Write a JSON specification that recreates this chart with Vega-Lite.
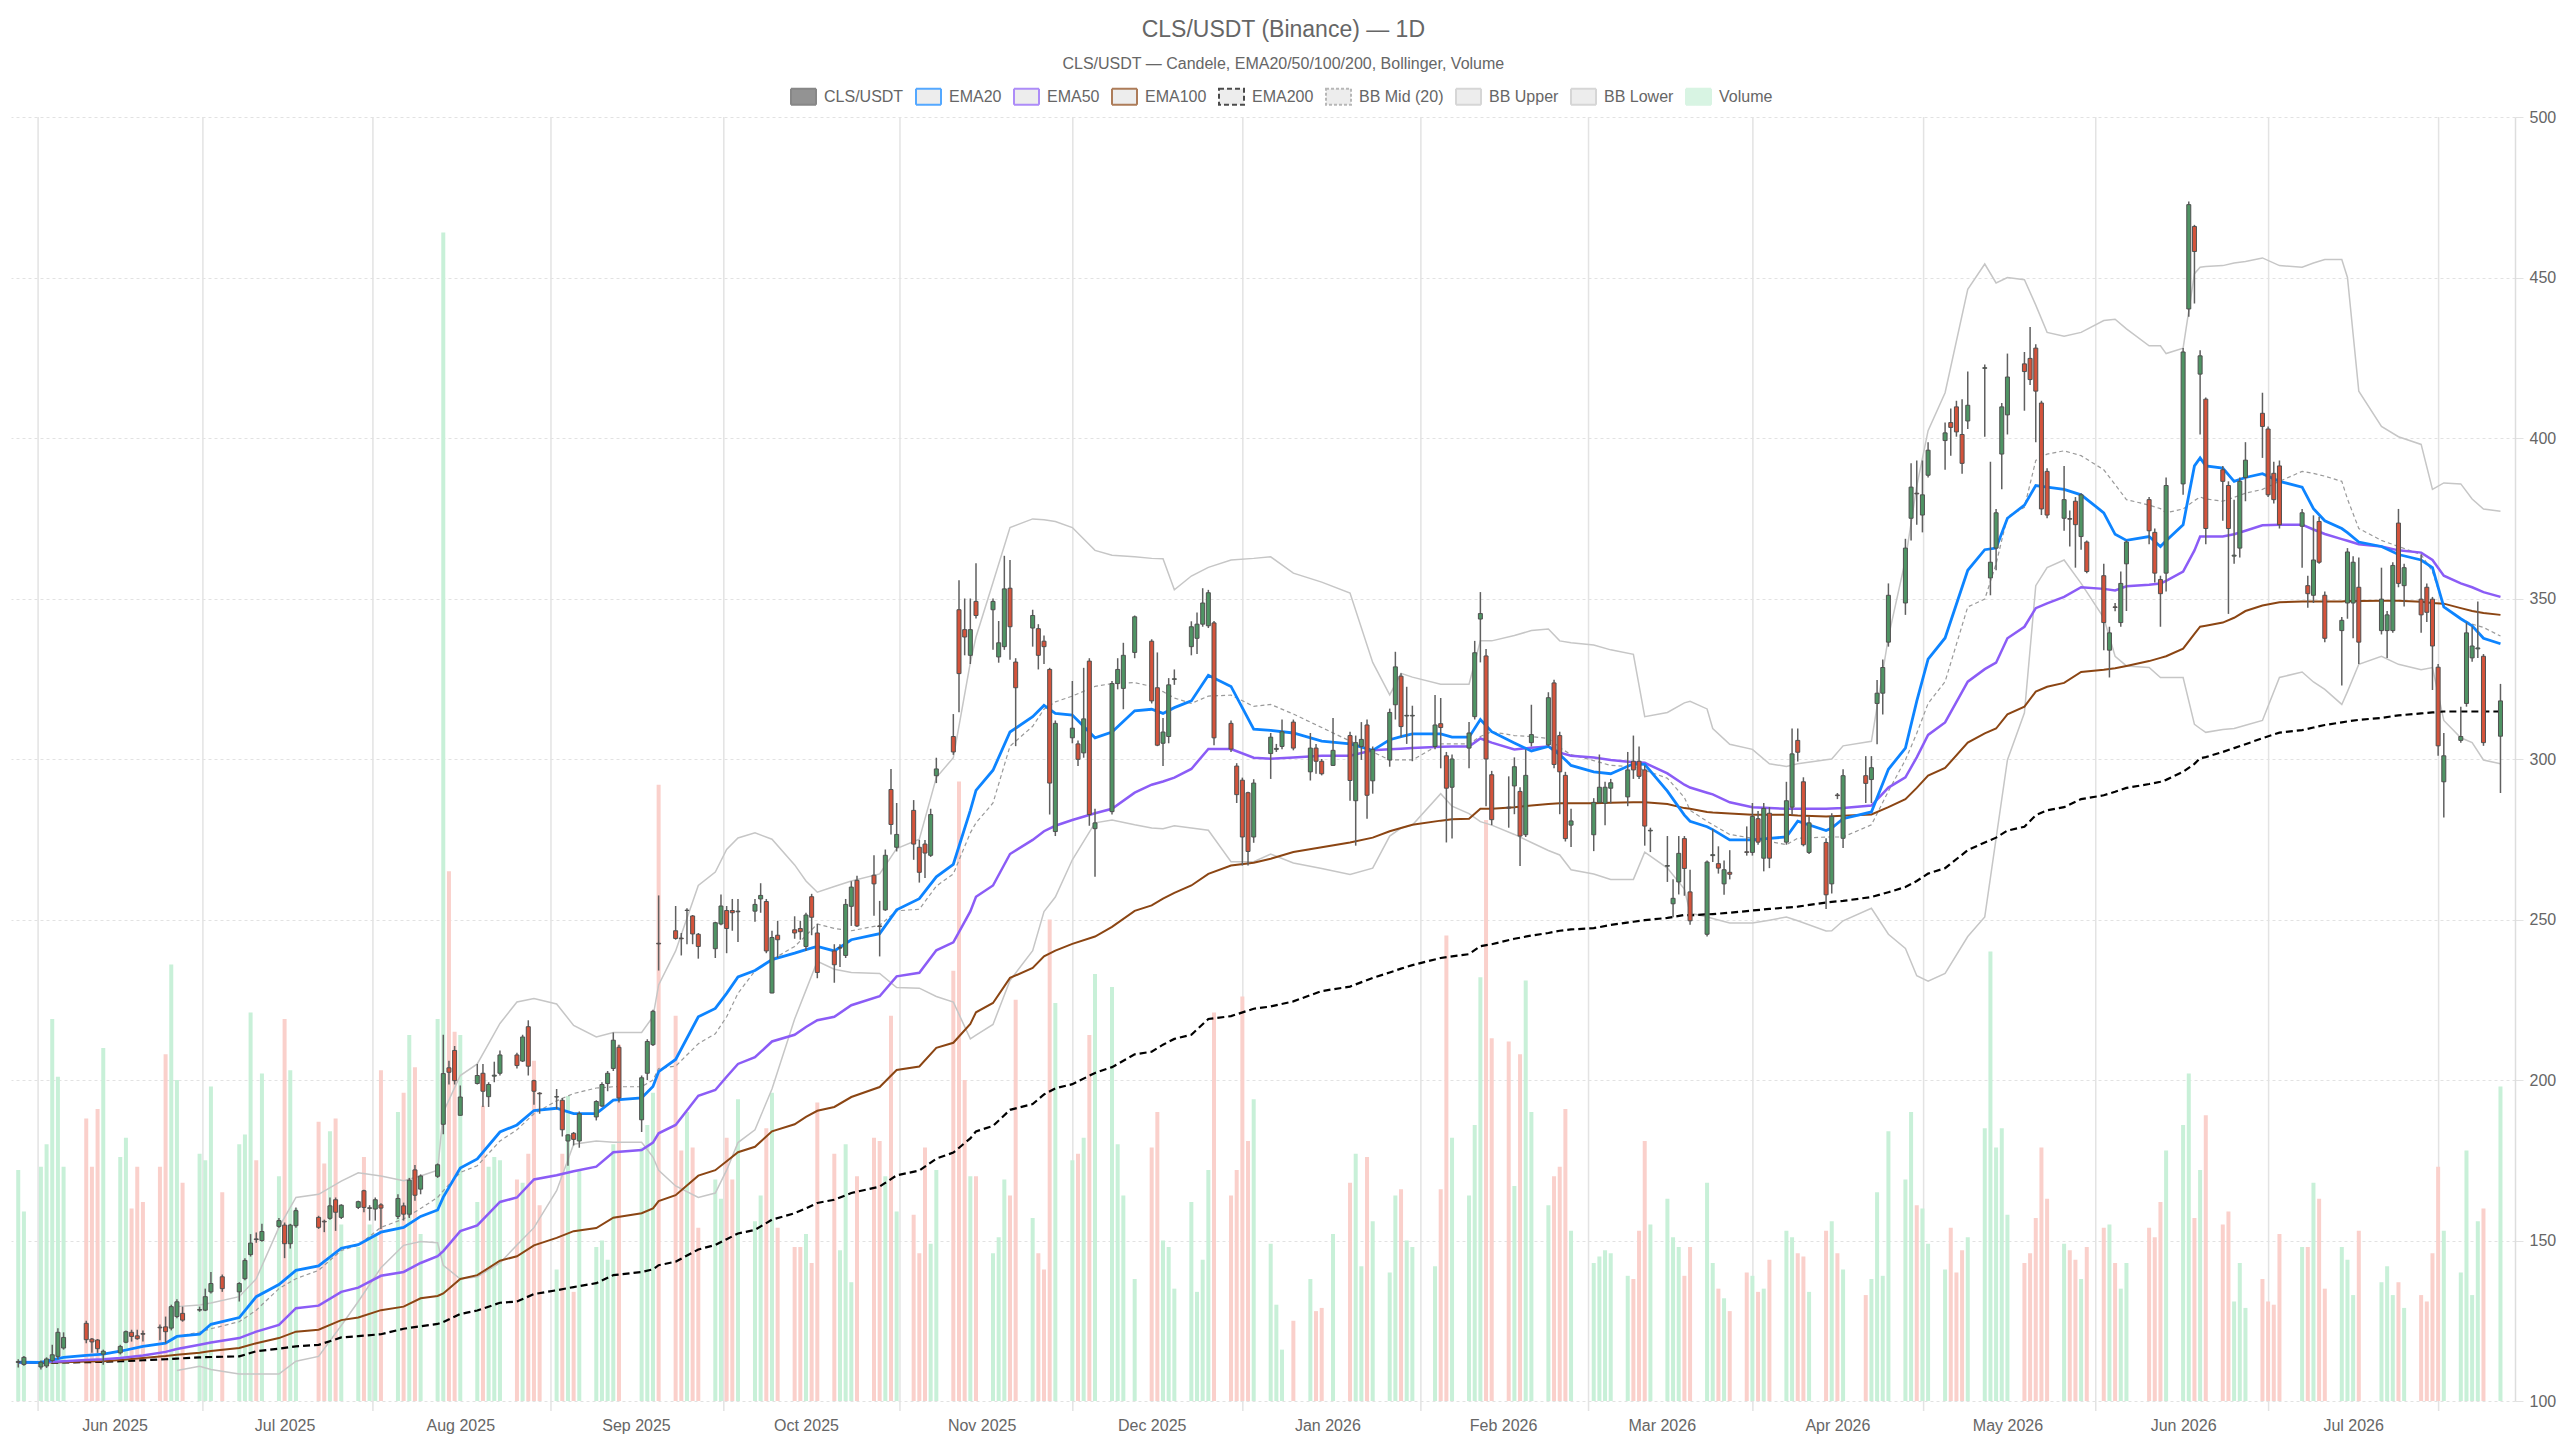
{
  "$schema": "https://vega.github.io/schema/vega-lite/v6.json",
  "width": 2504,
  "height": 1284,
  "autosize": {"type": "none"},
  "padding": {"left": 11, "top": 117, "right": 45, "bottom": 39},
  "background": "white",
  "title": {
    "text": "CLS/USDT (Binance) — 1D",
    "subtitle": "CLS/USDT — Candele, EMA20/50/100/200, Bollinger, Volume",
    "anchor": "middle",
    "frame": "bounds",
    "font": "Liberation Sans",
    "fontSize": 23,
    "fontWeight": "normal",
    "color": "#666666",
    "subtitleFont": "Liberation Sans",
    "subtitleFontSize": 16,
    "subtitleColor": "#666666",
    "subtitlePadding": 14,
    "offset": 11
  },
  "config": {
    "view": {"stroke": null},
    "font": "Liberation Sans"
  },
  "datasets": {
    "monthGrid": [
      {"t": "2025-05-18T12:00:00Z"}, {"t": "2025-06-16T14:00:00Z"}, {"t": "2025-07-16T14:00:00Z"},
      {"t": "2025-08-17T00:00:00Z"}, {"t": "2025-09-16T12:00:00Z"}, {"t": "2025-10-17T14:00:00Z"},
      {"t": "2025-11-17T02:00:00Z"}, {"t": "2025-12-17T02:00:00Z"}, {"t": "2026-01-17T12:00:00Z"},
      {"t": "2026-02-16T02:00:00Z"}, {"t": "2026-03-17T02:00:00Z"}, {"t": "2026-04-16T05:00:00Z"},
      {"t": "2026-05-16T14:00:00Z"}, {"t": "2026-06-16T02:00:00Z"}, {"t": "2026-07-16T02:00:00Z"}
    ],
    "legendItems": [
      {"s": "CLS/USDT"}, {"s": "EMA20"}, {"s": "EMA50"}, {"s": "EMA100"}, {"s": "EMA200"},
      {"s": "BB Mid (20)"}, {"s": "BB Upper"}, {"s": "BB Lower"}, {"s": "Volume"}
    ],
    "candles": [
      {"t":"2025-05-15","o":112.0,"h":113.0,"l":110.4,"c":112.3,"v":72},
      {"t":"2025-05-16","o":111.4,"h":114.0,"l":111.0,"c":113.6,"v":59},
      {"t":"2025-05-19","o":110.6,"h":112.6,"l":109.8,"c":112.1,"v":73},
      {"t":"2025-05-20","o":110.9,"h":113.6,"l":110.3,"c":113.1,"v":80},
      {"t":"2025-05-21","o":112.6,"h":117.5,"l":112.0,"c":114.4,"v":119},
      {"t":"2025-05-22","o":113.9,"h":122.7,"l":113.0,"c":121.4,"v":101},
      {"t":"2025-05-23","o":116.5,"h":121.4,"l":116.0,"c":119.8,"v":73},
      {"t":"2025-05-27","o":124.2,"h":125.0,"l":118.0,"c":119.1,"v":88},
      {"t":"2025-05-28","o":119.3,"h":119.6,"l":115.0,"c":118.4,"v":73},
      {"t":"2025-05-29","o":119.0,"h":119.3,"l":115.0,"c":116.3,"v":91},
      {"t":"2025-05-30","o":114.6,"h":116.0,"l":111.3,"c":115.5,"v":110},
      {"t":"2025-06-02","o":115.0,"h":117.5,"l":114.5,"c":117.0,"v":76},
      {"t":"2025-06-03","o":118.3,"h":122.0,"l":118.0,"c":121.6,"v":82},
      {"t":"2025-06-04","o":121.4,"h":122.2,"l":118.5,"c":120.1,"v":60},
      {"t":"2025-06-05","o":120.3,"h":122.2,"l":119.1,"c":119.4,"v":73},
      {"t":"2025-06-06","o":121.0,"h":122.0,"l":118.5,"c":120.8,"v":62},
      {"t":"2025-06-09","o":123.0,"h":123.8,"l":118.9,"c":122.8,"v":73},
      {"t":"2025-06-10","o":123.1,"h":126.3,"l":118.0,"c":121.6,"v":108},
      {"t":"2025-06-11","o":122.7,"h":130.0,"l":122.0,"c":129.4,"v":136},
      {"t":"2025-06-12","o":126.3,"h":131.7,"l":125.8,"c":130.9,"v":100},
      {"t":"2025-06-13","o":127.3,"h":129.4,"l":124.7,"c":125.2,"v":68},
      {"t":"2025-06-16","o":128.3,"h":129.4,"l":127.8,"c":128.5,"v":77},
      {"t":"2025-06-17","o":128.3,"h":135.0,"l":128.0,"c":132.5,"v":75},
      {"t":"2025-06-18","o":134.0,"h":140.2,"l":133.5,"c":136.6,"v":98},
      {"t":"2025-06-20","o":138.7,"h":139.4,"l":134.0,"c":135.0,"v":65},
      {"t":"2025-06-23","o":134.0,"h":137.0,"l":131.0,"c":136.6,"v":80},
      {"t":"2025-06-24","o":138.1,"h":144.5,"l":137.6,"c":143.8,"v":83},
      {"t":"2025-06-25","o":145.6,"h":152.0,"l":145.0,"c":149.2,"v":121},
      {"t":"2025-06-26","o":150.5,"h":152.5,"l":149.3,"c":150.3,"v":75},
      {"t":"2025-06-27","o":150.0,"h":155.2,"l":149.6,"c":152.8,"v":102},
      {"t":"2025-06-30","o":154.4,"h":157.0,"l":154.0,"c":156.2,"v":70},
      {"t":"2025-07-01","o":154.8,"h":155.6,"l":144.5,"c":149.0,"v":119},
      {"t":"2025-07-02","o":149.0,"h":155.2,"l":147.5,"c":154.8,"v":103},
      {"t":"2025-07-03","o":154.6,"h":160.3,"l":154.0,"c":159.3,"v":60},
      {"t":"2025-07-07","o":157.2,"h":157.7,"l":153.6,"c":154.1,"v":87},
      {"t":"2025-07-08","o":156.0,"h":156.5,"l":152.6,"c":155.8,"v":74},
      {"t":"2025-07-09","o":156.9,"h":163.4,"l":156.5,"c":160.8,"v":84},
      {"t":"2025-07-10","o":162.7,"h":163.4,"l":153.0,"c":158.8,"v":88},
      {"t":"2025-07-11","o":157.2,"h":161.3,"l":156.7,"c":161.0,"v":55},
      {"t":"2025-07-14","o":160.3,"h":162.4,"l":159.8,"c":162.1,"v":48},
      {"t":"2025-07-15","o":165.5,"h":165.8,"l":158.8,"c":160.3,"v":76},
      {"t":"2025-07-16","o":160.0,"h":161.0,"l":156.2,"c":160.2,"v":55},
      {"t":"2025-07-17","o":159.8,"h":163.4,"l":156.2,"c":162.7,"v":52},
      {"t":"2025-07-18","o":161.1,"h":161.6,"l":153.6,"c":160.1,"v":103},
      {"t":"2025-07-21","o":157.5,"h":164.4,"l":156.7,"c":163.1,"v":90},
      {"t":"2025-07-22","o":160.8,"h":161.8,"l":156.2,"c":158.2,"v":96},
      {"t":"2025-07-23","o":158.2,"h":169.5,"l":157.0,"c":168.8,"v":114},
      {"t":"2025-07-24","o":172.0,"h":173.5,"l":162.4,"c":164.1,"v":104},
      {"t":"2025-07-25","o":166.0,"h":170.6,"l":164.4,"c":170.1,"v":52},
      {"t":"2025-07-28","o":170.0,"h":174.0,"l":169.5,"c":173.6,"v":119},
      {"t":"2025-07-29","o":186.2,"h":214.1,"l":183.1,"c":202.0,"v":364},
      {"t":"2025-07-30","o":203.8,"h":206.0,"l":198.6,"c":202.4,"v":165},
      {"t":"2025-07-31","o":209.2,"h":210.6,"l":198.6,"c":199.8,"v":115},
      {"t":"2025-08-01","o":189.0,"h":198.3,"l":188.9,"c":194.7,"v":114},
      {"t":"2025-08-04","o":198.9,"h":205.0,"l":198.6,"c":201.4,"v":62},
      {"t":"2025-08-05","o":202.1,"h":205.0,"l":191.6,"c":196.5,"v":92},
      {"t":"2025-08-06","o":194.8,"h":199.3,"l":191.6,"c":198.6,"v":73},
      {"t":"2025-08-07","o":201.2,"h":205.7,"l":199.3,"c":201.5,"v":76},
      {"t":"2025-08-08","o":202.1,"h":209.2,"l":201.4,"c":207.8,"v":75},
      {"t":"2025-08-11","o":207.8,"h":208.5,"l":203.6,"c":204.5,"v":69},
      {"t":"2025-08-12","o":205.9,"h":214.1,"l":205.6,"c":213.4,"v":68},
      {"t":"2025-08-13","o":216.6,"h":218.6,"l":201.4,"c":204.3,"v":77},
      {"t":"2025-08-14","o":199.8,"h":200.1,"l":192.3,"c":196.5,"v":106},
      {"t":"2025-08-15","o":195.9,"h":196.2,"l":189.5,"c":195.7,"v":61},
      {"t":"2025-08-18","o":194.7,"h":197.2,"l":190.9,"c":194.8,"v":41},
      {"t":"2025-08-19","o":193.7,"h":194.4,"l":182.4,"c":184.5,"v":77},
      {"t":"2025-08-20","o":181.0,"h":183.1,"l":173.3,"c":182.9,"v":95},
      {"t":"2025-08-21","o":183.4,"h":183.8,"l":179.6,"c":181.5,"v":34},
      {"t":"2025-08-22","o":181.0,"h":190.2,"l":178.9,"c":189.5,"v":72},
      {"t":"2025-08-25","o":188.5,"h":193.7,"l":187.4,"c":193.3,"v":48},
      {"t":"2025-08-26","o":191.9,"h":199.3,"l":191.6,"c":198.6,"v":50},
      {"t":"2025-08-27","o":198.9,"h":202.8,"l":196.5,"c":202.1,"v":44},
      {"t":"2025-08-28","o":203.6,"h":214.8,"l":202.8,"c":212.4,"v":80},
      {"t":"2025-08-29","o":210.2,"h":211.0,"l":193.0,"c":194.4,"v":111},
      {"t":"2025-09-02","o":187.6,"h":201.4,"l":183.8,"c":200.7,"v":79},
      {"t":"2025-09-03","o":202.1,"h":212.7,"l":200.0,"c":212.0,"v":86},
      {"t":"2025-09-04","o":211.0,"h":221.9,"l":210.6,"c":221.4,"v":96},
      {"t":"2025-09-05","o":242.6,"h":257.5,"l":234.1,"c":242.4,"v":192},
      {"t":"2025-09-08","o":246.5,"h":254.2,"l":243.7,"c":244.1,"v":120},
      {"t":"2025-09-09","o":244.2,"h":245.8,"l":238.8,"c":244.0,"v":78},
      {"t":"2025-09-10","o":252.8,"h":253.5,"l":242.3,"c":252.9,"v":90},
      {"t":"2025-09-11","o":251.1,"h":251.4,"l":242.3,"c":245.5,"v":79},
      {"t":"2025-09-12","o":245.4,"h":245.8,"l":237.8,"c":241.6,"v":54},
      {"t":"2025-09-15","o":240.9,"h":249.3,"l":238.0,"c":249.0,"v":69},
      {"t":"2025-09-16","o":248.6,"h":257.8,"l":248.2,"c":254.2,"v":63},
      {"t":"2025-09-17","o":252.8,"h":254.2,"l":239.5,"c":247.2,"v":82},
      {"t":"2025-09-18","o":252.8,"h":256.4,"l":246.5,"c":252.1,"v":69},
      {"t":"2025-09-19","o":252.4,"h":256.4,"l":243.0,"c":252.6,"v":94},
      {"t":"2025-09-22","o":252.6,"h":256.4,"l":249.3,"c":254.7,"v":56},
      {"t":"2025-09-23","o":256.4,"h":261.3,"l":252.1,"c":257.5,"v":64},
      {"t":"2025-09-24","o":255.6,"h":256.4,"l":239.5,"c":240.2,"v":85},
      {"t":"2025-09-25","o":227.1,"h":246.5,"l":227.0,"c":244.4,"v":96},
      {"t":"2025-09-26","o":245.1,"h":249.6,"l":238.0,"c":243.7,"v":54},
      {"t":"2025-09-29","o":246.8,"h":251.0,"l":244.0,"c":245.8,"v":48},
      {"t":"2025-09-30","o":247.2,"h":249.6,"l":243.7,"c":246.2,"v":48},
      {"t":"2025-10-01","o":241.6,"h":252.1,"l":240.2,"c":251.4,"v":52},
      {"t":"2025-10-02","o":257.1,"h":258.0,"l":245.1,"c":250.7,"v":43},
      {"t":"2025-10-03","o":245.8,"h":248.6,"l":231.7,"c":233.5,"v":93},
      {"t":"2025-10-06","o":240.2,"h":242.3,"l":230.3,"c":235.9,"v":77},
      {"t":"2025-10-07","o":241.1,"h":242.3,"l":235.2,"c":241.3,"v":47},
      {"t":"2025-10-08","o":238.8,"h":256.4,"l":238.0,"c":254.7,"v":80},
      {"t":"2025-10-09","o":254.1,"h":261.9,"l":248.0,"c":260.1,"v":37},
      {"t":"2025-10-10","o":262.2,"h":263.6,"l":247.7,"c":248.0,"v":70},
      {"t":"2025-10-13","o":263.8,"h":270.0,"l":251.2,"c":261.1,"v":82},
      {"t":"2025-10-14","o":248.0,"h":255.8,"l":238.5,"c":247.8,"v":81},
      {"t":"2025-10-15","o":253.0,"h":271.8,"l":252.7,"c":270.0,"v":70},
      {"t":"2025-10-16","o":290.5,"h":296.9,"l":276.5,"c":279.6,"v":120},
      {"t":"2025-10-17","o":272.5,"h":286.3,"l":271.2,"c":276.5,"v":59},
      {"t":"2025-10-20","o":284.0,"h":287.2,"l":268.6,"c":273.5,"v":58},
      {"t":"2025-10-21","o":272.5,"h":274.8,"l":261.5,"c":264.7,"v":46},
      {"t":"2025-10-22","o":273.5,"h":274.8,"l":262.9,"c":270.7,"v":79},
      {"t":"2025-10-23","o":270.0,"h":284.5,"l":269.5,"c":282.7,"v":49},
      {"t":"2025-10-24","o":294.8,"h":300.4,"l":292.5,"c":296.9,"v":72},
      {"t":"2025-10-27","o":307.0,"h":314.0,"l":301.3,"c":302.2,"v":134},
      {"t":"2025-10-28","o":346.5,"h":355.7,"l":314.6,"c":326.6,"v":193},
      {"t":"2025-10-29","o":340.3,"h":350.0,"l":332.3,"c":338.0,"v":100},
      {"t":"2025-10-30","o":332.3,"h":350.0,"l":329.6,"c":340.3,"v":70},
      {"t":"2025-10-31","o":349.1,"h":361.0,"l":343.8,"c":344.7,"v":70},
      {"t":"2025-11-03","o":346.5,"h":350.0,"l":334.0,"c":349.1,"v":46},
      {"t":"2025-11-04","o":331.8,"h":343.0,"l":330.0,"c":336.2,"v":51},
      {"t":"2025-11-05","o":335.0,"h":363.3,"l":334.0,"c":353.0,"v":69},
      {"t":"2025-11-06","o":353.2,"h":362.0,"l":330.9,"c":341.2,"v":64},
      {"t":"2025-11-07","o":330.2,"h":331.4,"l":304.0,"c":322.2,"v":125},
      {"t":"2025-11-10","o":340.8,"h":346.5,"l":335.0,"c":344.7,"v":57},
      {"t":"2025-11-11","o":340.6,"h":342.0,"l":327.9,"c":332.3,"v":46},
      {"t":"2025-11-12","o":336.7,"h":338.5,"l":329.6,"c":335.0,"v":41},
      {"t":"2025-11-13","o":327.9,"h":328.4,"l":282.7,"c":292.5,"v":150},
      {"t":"2025-11-14","o":277.4,"h":312.0,"l":276.0,"c":311.1,"v":124},
      {"t":"2025-11-17","o":306.6,"h":324.3,"l":304.9,"c":309.6,"v":75},
      {"t":"2025-11-18","o":304.7,"h":305.8,"l":297.8,"c":299.9,"v":77},
      {"t":"2025-11-19","o":301.9,"h":328.4,"l":300.4,"c":312.5,"v":82},
      {"t":"2025-11-20","o":330.5,"h":331.4,"l":279.2,"c":282.7,"v":114},
      {"t":"2025-11-21","o":278.3,"h":284.5,"l":263.3,"c":280.1,"v":133},
      {"t":"2025-11-24","o":283.6,"h":324.3,"l":282.7,"c":323.5,"v":129},
      {"t":"2025-11-25","o":323.5,"h":331.4,"l":321.7,"c":327.9,"v":80},
      {"t":"2025-11-26","o":322.0,"h":336.2,"l":315.5,"c":332.3,"v":64},
      {"t":"2025-11-28","o":333.2,"h":344.7,"l":331.4,"c":344.3,"v":38},
      {"t":"2025-12-01","o":336.7,"h":337.3,"l":317.3,"c":318.1,"v":79},
      {"t":"2025-12-02","o":322.2,"h":333.2,"l":304.0,"c":304.3,"v":90},
      {"t":"2025-12-03","o":304.9,"h":312.8,"l":297.8,"c":308.4,"v":50},
      {"t":"2025-12-04","o":307.0,"h":325.2,"l":304.9,"c":323.1,"v":48},
      {"t":"2025-12-05","o":324.8,"h":327.9,"l":323.1,"c":325.0,"v":35},
      {"t":"2025-12-08","o":335.0,"h":342.9,"l":332.3,"c":341.2,"v":62},
      {"t":"2025-12-09","o":337.6,"h":345.6,"l":332.7,"c":342.0,"v":34},
      {"t":"2025-12-10","o":342.0,"h":353.2,"l":341.2,"c":348.6,"v":44},
      {"t":"2025-12-11","o":341.5,"h":352.7,"l":340.8,"c":351.8,"v":72},
      {"t":"2025-12-12","o":342.4,"h":343.0,"l":304.3,"c":306.6,"v":121},
      {"t":"2025-12-15","o":311.1,"h":312.0,"l":302.2,"c":303.1,"v":64},
      {"t":"2025-12-16","o":297.8,"h":298.7,"l":286.3,"c":288.9,"v":72},
      {"t":"2025-12-17","o":293.4,"h":294.2,"l":266.8,"c":275.7,"v":126},
      {"t":"2025-12-18","o":289.5,"h":289.8,"l":266.8,"c":271.2,"v":81},
      {"t":"2025-12-19","o":275.7,"h":293.7,"l":273.9,"c":292.5,"v":94},
      {"t":"2025-12-22","o":301.7,"h":308.1,"l":293.8,"c":306.8,"v":49},
      {"t":"2025-12-23","o":303.0,"h":304.7,"l":302.2,"c":303.3,"v":30},
      {"t":"2025-12-24","o":303.9,"h":312.3,"l":303.0,"c":308.5,"v":16},
      {"t":"2025-12-26","o":311.5,"h":312.3,"l":302.7,"c":303.4,"v":25},
      {"t":"2025-12-29","o":296.0,"h":308.1,"l":293.3,"c":303.4,"v":38},
      {"t":"2025-12-30","o":303.4,"h":304.7,"l":295.4,"c":299.3,"v":28},
      {"t":"2025-12-31","o":299.3,"h":300.0,"l":294.9,"c":295.4,"v":29},
      {"t":"2026-01-02","o":298.0,"h":312.8,"l":297.8,"c":302.7,"v":52},
      {"t":"2026-01-05","o":307.3,"h":308.5,"l":287.0,"c":293.3,"v":68},
      {"t":"2026-01-06","o":287.0,"h":307.3,"l":273.0,"c":305.1,"v":77},
      {"t":"2026-01-07","o":303.9,"h":311.5,"l":299.7,"c":306.1,"v":42},
      {"t":"2026-01-08","o":310.6,"h":312.3,"l":281.4,"c":288.7,"v":76},
      {"t":"2026-01-09","o":293.2,"h":303.9,"l":289.2,"c":303.0,"v":56},
      {"t":"2026-01-12","o":299.7,"h":315.7,"l":297.6,"c":314.5,"v":40},
      {"t":"2026-01-13","o":316.9,"h":333.4,"l":312.3,"c":328.7,"v":64},
      {"t":"2026-01-14","o":325.8,"h":326.7,"l":306.8,"c":310.1,"v":66},
      {"t":"2026-01-15","o":313.4,"h":322.5,"l":304.7,"c":313.6,"v":50},
      {"t":"2026-01-16","o":313.4,"h":316.6,"l":299.3,"c":313.6,"v":48},
      {"t":"2026-01-20","o":303.9,"h":319.9,"l":303.0,"c":310.6,"v":42},
      {"t":"2026-01-21","o":311.0,"h":319.0,"l":297.1,"c":309.8,"v":66},
      {"t":"2026-01-22","o":301.0,"h":302.2,"l":274.0,"c":290.9,"v":145},
      {"t":"2026-01-23","o":291.2,"h":301.4,"l":275.2,"c":300.0,"v":82},
      {"t":"2026-01-26","o":303.4,"h":311.5,"l":297.1,"c":308.1,"v":64},
      {"t":"2026-01-27","o":313.2,"h":336.8,"l":312.3,"c":333.1,"v":86},
      {"t":"2026-01-28","o":343.6,"h":352.0,"l":330.1,"c":345.3,"v":132},
      {"t":"2026-01-29","o":332.1,"h":334.3,"l":285.3,"c":300.0,"v":181},
      {"t":"2026-01-30","o":295.1,"h":296.3,"l":279.4,"c":281.1,"v":113},
      {"t":"2026-02-02","o":285.0,"h":294.6,"l":278.6,"c":284.7,"v":112},
      {"t":"2026-02-03","o":291.6,"h":300.5,"l":282.8,"c":297.6,"v":67},
      {"t":"2026-02-04","o":289.9,"h":291.2,"l":266.7,"c":276.0,"v":108},
      {"t":"2026-02-05","o":276.4,"h":303.0,"l":275.7,"c":294.9,"v":131},
      {"t":"2026-02-06","o":305.1,"h":316.9,"l":303.9,"c":307.6,"v":90},
      {"t":"2026-02-09","o":304.4,"h":320.8,"l":303.9,"c":319.1,"v":61},
      {"t":"2026-02-10","o":323.7,"h":324.7,"l":297.1,"c":298.3,"v":70},
      {"t":"2026-02-11","o":307.3,"h":308.5,"l":282.8,"c":296.0,"v":73},
      {"t":"2026-02-12","o":294.9,"h":296.0,"l":274.3,"c":275.2,"v":91},
      {"t":"2026-02-13","o":279.4,"h":284.5,"l":272.6,"c":280.7,"v":53},
      {"t":"2026-02-17","o":276.4,"h":287.8,"l":271.3,"c":286.5,"v":43},
      {"t":"2026-02-18","o":286.5,"h":301.4,"l":286.2,"c":291.2,"v":45},
      {"t":"2026-02-19","o":286.2,"h":292.9,"l":279.4,"c":291.2,"v":47},
      {"t":"2026-02-20","o":290.9,"h":293.8,"l":286.2,"c":292.6,"v":46},
      {"t":"2026-02-23","o":288.2,"h":302.2,"l":285.3,"c":296.6,"v":39},
      {"t":"2026-02-24","o":299.3,"h":307.3,"l":293.8,"c":296.6,"v":38},
      {"t":"2026-02-25","o":299.3,"h":303.9,"l":293.8,"c":294.6,"v":53},
      {"t":"2026-02-26","o":296.6,"h":298.0,"l":273.0,"c":279.1,"v":81},
      {"t":"2026-02-27","o":277.6,"h":278.6,"l":271.0,"c":277.8,"v":55},
      {"t":"2026-03-02","o":266.6,"h":276.0,"l":261.7,"c":266.8,"v":63},
      {"t":"2026-03-03","o":254.9,"h":262.5,"l":250.7,"c":256.6,"v":51},
      {"t":"2026-03-04","o":261.7,"h":276.0,"l":257.8,"c":270.6,"v":48},
      {"t":"2026-03-05","o":275.2,"h":276.0,"l":257.4,"c":265.9,"v":39},
      {"t":"2026-03-06","o":258.6,"h":265.5,"l":248.4,"c":249.6,"v":48},
      {"t":"2026-03-09","o":245.4,"h":268.4,"l":244.7,"c":267.9,"v":68},
      {"t":"2026-03-10","o":269.9,"h":278.2,"l":267.9,"c":270.2,"v":43},
      {"t":"2026-03-11","o":267.4,"h":272.8,"l":264.3,"c":266.0,"v":35},
      {"t":"2026-03-12","o":261.1,"h":268.4,"l":257.7,"c":265.5,"v":32},
      {"t":"2026-03-13","o":264.7,"h":271.6,"l":262.5,"c":264.1,"v":28},
      {"t":"2026-03-16","o":271.1,"h":279.0,"l":269.9,"c":270.9,"v":40},
      {"t":"2026-03-17","o":270.9,"h":286.3,"l":269.9,"c":282.1,"v":39},
      {"t":"2026-03-18","o":281.4,"h":283.8,"l":273.3,"c":274.1,"v":34},
      {"t":"2026-03-19","o":269.1,"h":286.3,"l":265.0,"c":284.6,"v":35},
      {"t":"2026-03-20","o":283.1,"h":285.0,"l":266.0,"c":269.1,"v":44},
      {"t":"2026-03-23","o":274.1,"h":292.9,"l":273.3,"c":287.0,"v":53},
      {"t":"2026-03-24","o":285.0,"h":309.5,"l":282.6,"c":301.6,"v":51},
      {"t":"2026-03-25","o":305.8,"h":309.5,"l":299.2,"c":302.1,"v":46},
      {"t":"2026-03-26","o":292.9,"h":294.3,"l":272.8,"c":273.3,"v":45},
      {"t":"2026-03-27","o":270.9,"h":282.1,"l":270.4,"c":280.1,"v":34},
      {"t":"2026-03-30","o":274.0,"h":275.3,"l":253.3,"c":257.7,"v":53},
      {"t":"2026-03-31","o":261.1,"h":283.1,"l":258.1,"c":282.1,"v":56},
      {"t":"2026-04-01","o":288.8,"h":289.4,"l":287.5,"c":288.6,"v":46},
      {"t":"2026-04-02","o":275.3,"h":296.8,"l":272.3,"c":294.8,"v":41},
      {"t":"2026-04-06","o":294.8,"h":300.9,"l":286.3,"c":292.4,"v":33},
      {"t":"2026-04-07","o":293.6,"h":300.9,"l":286.3,"c":297.3,"v":38},
      {"t":"2026-04-08","o":317.3,"h":324.6,"l":304.6,"c":320.5,"v":65},
      {"t":"2026-04-09","o":320.5,"h":331.0,"l":313.9,"c":328.5,"v":39},
      {"t":"2026-04-10","o":336.4,"h":354.7,"l":335.0,"c":351.0,"v":84},
      {"t":"2026-04-13","o":348.6,"h":368.6,"l":344.9,"c":365.7,"v":69},
      {"t":"2026-04-14","o":375.0,"h":392.1,"l":368.1,"c":384.7,"v":90},
      {"t":"2026-04-15","o":382.8,"h":393.0,"l":373.0,"c":382.6,"v":61},
      {"t":"2026-04-16","o":376.0,"h":393.0,"l":370.6,"c":382.3,"v":60},
      {"t":"2026-04-17","o":388.4,"h":398.7,"l":387.7,"c":396.2,"v":49},
      {"t":"2026-04-20","o":399.2,"h":404.8,"l":390.1,"c":401.6,"v":41},
      {"t":"2026-04-21","o":404.8,"h":409.2,"l":394.5,"c":403.3,"v":54},
      {"t":"2026-04-22","o":409.7,"h":411.6,"l":400.4,"c":401.9,"v":40},
      {"t":"2026-04-23","o":401.1,"h":412.1,"l":388.9,"c":392.1,"v":47},
      {"t":"2026-04-24","o":405.3,"h":420.7,"l":402.8,"c":410.2,"v":51},
      {"t":"2026-04-27","o":421.7,"h":422.9,"l":400.4,"c":421.9,"v":85},
      {"t":"2026-04-28","o":356.4,"h":392.6,"l":351.0,"c":361.3,"v":140},
      {"t":"2026-04-29","o":365.7,"h":377.9,"l":358.8,"c":376.7,"v":79},
      {"t":"2026-04-30","o":395.0,"h":410.9,"l":384.0,"c":409.7,"v":85},
      {"t":"2026-05-01","o":407.2,"h":426.3,"l":401.1,"c":419.0,"v":58},
      {"t":"2026-05-04","o":423.1,"h":426.8,"l":408.5,"c":420.7,"v":43},
      {"t":"2026-05-05","o":424.8,"h":434.6,"l":416.5,"c":418.2,"v":46},
      {"t":"2026-05-06","o":428.0,"h":429.2,"l":398.7,"c":414.6,"v":57},
      {"t":"2026-05-07","o":410.9,"h":411.6,"l":376.0,"c":377.9,"v":79},
      {"t":"2026-05-08","o":389.6,"h":390.6,"l":375.0,"c":376.0,"v":63},
      {"t":"2026-05-11","o":375.0,"h":391.3,"l":371.1,"c":380.8,"v":49},
      {"t":"2026-05-12","o":374.9,"h":377.4,"l":366.2,"c":374.7,"v":47},
      {"t":"2026-05-13","o":380.3,"h":381.6,"l":359.6,"c":373.0,"v":44},
      {"t":"2026-05-14","o":369.3,"h":382.8,"l":365.2,"c":382.3,"v":38},
      {"t":"2026-05-15","o":367.6,"h":368.1,"l":357.9,"c":358.4,"v":48},
      {"t":"2026-05-18","o":357.1,"h":360.8,"l":333.9,"c":342.5,"v":54},
      {"t":"2026-05-19","o":333.9,"h":341.2,"l":325.4,"c":339.3,"v":55},
      {"t":"2026-05-20","o":347.4,"h":348.6,"l":346.0,"c":347.2,"v":43},
      {"t":"2026-05-21","o":342.5,"h":358.4,"l":341.2,"c":354.7,"v":35},
      {"t":"2026-05-22","o":360.8,"h":368.1,"l":346.1,"c":367.6,"v":43},
      {"t":"2026-05-26","o":380.8,"h":381.6,"l":366.9,"c":371.1,"v":54},
      {"t":"2026-05-27","o":370.6,"h":371.8,"l":355.0,"c":357.9,"v":51},
      {"t":"2026-05-28","o":355.9,"h":357.1,"l":341.2,"c":351.5,"v":62},
      {"t":"2026-05-29","o":357.9,"h":387.7,"l":352.2,"c":385.2,"v":78},
      {"t":"2026-06-01","o":385.7,"h":428.0,"l":382.3,"c":426.8,"v":86},
      {"t":"2026-06-02","o":440.2,"h":473.7,"l":437.8,"c":472.7,"v":102},
      {"t":"2026-06-03","o":465.9,"h":466.4,"l":441.9,"c":458.1,"v":57},
      {"t":"2026-06-04","o":419.9,"h":427.3,"l":401.1,"c":425.6,"v":72},
      {"t":"2026-06-05","o":412.1,"h":412.6,"l":366.9,"c":371.8,"v":89},
      {"t":"2026-06-08","o":390.1,"h":391.3,"l":374.2,"c":386.5,"v":55},
      {"t":"2026-06-09","o":385.2,"h":386.5,"l":345.2,"c":371.8,"v":59},
      {"t":"2026-06-10","o":363.2,"h":380.8,"l":360.8,"c":363.5,"v":31},
      {"t":"2026-06-11","o":365.7,"h":387.7,"l":362.8,"c":386.5,"v":43},
      {"t":"2026-06-12","o":387.7,"h":398.7,"l":380.3,"c":393.1,"v":29},
      {"t":"2026-06-15","o":407.7,"h":414.1,"l":393.8,"c":403.6,"v":38},
      {"t":"2026-06-16","o":402.8,"h":403.6,"l":381.6,"c":382.3,"v":31},
      {"t":"2026-06-17","o":389.0,"h":392.6,"l":379.6,"c":380.8,"v":30},
      {"t":"2026-06-18","o":391.3,"h":393.0,"l":371.8,"c":373.0,"v":52},
      {"t":"2026-06-22","o":372.5,"h":377.9,"l":359.6,"c":376.7,"v":48},
      {"t":"2026-06-23","o":354.0,"h":357.1,"l":347.1,"c":351.5,"v":48},
      {"t":"2026-06-24","o":351.0,"h":375.9,"l":348.6,"c":362.0,"v":68},
      {"t":"2026-06-25","o":374.0,"h":375.5,"l":360.8,"c":361.3,"v":63},
      {"t":"2026-06-26","o":351.0,"h":352.2,"l":336.4,"c":337.6,"v":35},
      {"t":"2026-06-29","o":340.0,"h":344.2,"l":322.9,"c":343.2,"v":48},
      {"t":"2026-06-30","o":348.6,"h":365.7,"l":343.7,"c":364.5,"v":44},
      {"t":"2026-07-01","o":348.6,"h":363.2,"l":337.6,"c":361.3,"v":33},
      {"t":"2026-07-02","o":353.5,"h":362.8,"l":329.6,"c":336.4,"v":53},
      {"t":"2026-07-06","o":340.0,"h":359.6,"l":338.8,"c":349.8,"v":37},
      {"t":"2026-07-07","o":340.0,"h":346.1,"l":331.5,"c":344.9,"v":42},
      {"t":"2026-07-08","o":340.0,"h":361.3,"l":339.3,"c":360.3,"v":33},
      {"t":"2026-07-09","o":373.5,"h":377.9,"l":353.5,"c":354.7,"v":37},
      {"t":"2026-07-10","o":354.0,"h":360.8,"l":347.5,"c":359.6,"v":29},
      {"t":"2026-07-13","o":349.8,"h":363.7,"l":339.3,"c":344.9,"v":33},
      {"t":"2026-07-14","o":353.5,"h":354.7,"l":342.7,"c":345.7,"v":31},
      {"t":"2026-07-15","o":349.8,"h":350.5,"l":321.5,"c":335.2,"v":46},
      {"t":"2026-07-16","o":328.6,"h":329.6,"l":301.0,"c":304.1,"v":73},
      {"t":"2026-07-17","o":292.9,"h":308.1,"l":281.8,"c":301.0,"v":53},
      {"t":"2026-07-20","o":305.8,"h":316.3,"l":305.1,"c":307.0,"v":40},
      {"t":"2026-07-21","o":317.3,"h":342.5,"l":316.3,"c":339.3,"v":78},
      {"t":"2026-07-22","o":331.5,"h":341.2,"l":330.3,"c":335.2,"v":33},
      {"t":"2026-07-23","o":334.3,"h":349.1,"l":331.5,"c":334.6,"v":56},
      {"t":"2026-07-24","o":332.0,"h":332.7,"l":304.1,"c":305.1,"v":60},
      {"t":"2026-07-27","o":307.1,"h":323.4,"l":289.4,"c":318.1,"v":98}
    ],
    "indicators": [
      {"t":"2025-05-15","e20":112.1,"e50":111.9,"e100":111.9,"e200":111.9,"bm":null,"bu":null,"bl":null},
      {"t":"2025-05-19","e20":112.0,"e50":112.1,"e100":112.0,"e200":111.9,"bm":null,"bu":null,"bl":null},
      {"t":"2025-05-23","e20":113.6,"e50":112.4,"e100":112.1,"e200":112.0,"bm":null,"bu":null,"bl":null},
      {"t":"2025-05-27","e20":114.2,"e50":112.8,"e100":112.3,"e200":112.1,"bm":null,"bu":null,"bl":null},
      {"t":"2025-05-30","e20":114.6,"e50":113.0,"e100":112.4,"e200":112.2,"bm":null,"bu":null,"bl":null},
      {"t":"2025-06-02","e20":115.5,"e50":113.4,"e100":112.8,"e200":112.4,"bm":null,"bu":null,"bl":null},
      {"t":"2025-06-06","e20":117.0,"e50":114.2,"e100":113.4,"e200":112.7,"bm":null,"bu":null,"bl":null},
      {"t":"2025-06-10","e20":118.0,"e50":115.3,"e100":114.0,"e200":113.0,"bm":null,"bu":null,"bl":null},
      {"t":"2025-06-12","e20":120.1,"e50":116.2,"e100":114.4,"e200":113.2,"bm":120.1,"bu":129.4,"bl":109.5},
      {"t":"2025-06-16","e20":120.8,"e50":117.5,"e100":115.0,"e200":113.6,"bm":121.5,"bu":129.9,"bl":110.8},
      {"t":"2025-06-18","e20":123.9,"e50":118.2,"e100":115.6,"e200":113.7,"bm":122.5,"bu":130.5,"bl":109.8},
      {"t":"2025-06-23","e20":126.0,"e50":119.6,"e100":116.5,"e200":113.9,"bm":124.7,"bu":132.5,"bl":108.4},
      {"t":"2025-06-26","e20":132.5,"e50":121.6,"e100":118.0,"e200":115.5,"bm":128.3,"bu":138.1,"bl":108.4},
      {"t":"2025-06-30","e20":136.3,"e50":123.7,"e100":119.6,"e200":116.3,"bm":135.0,"bu":154.1,"bl":108.4},
      {"t":"2025-07-03","e20":140.7,"e50":128.9,"e100":121.6,"e200":117.0,"bm":138.1,"bu":163.4,"bl":112.4},
      {"t":"2025-07-07","e20":142.1,"e50":129.7,"e100":122.2,"e200":117.5,"bm":140.7,"bu":164.4,"bl":113.9},
      {"t":"2025-07-11","e20":147.6,"e50":134.0,"e100":125.2,"e200":119.8,"bm":146.9,"bu":168.5,"bl":123.5},
      {"t":"2025-07-14","e20":148.7,"e50":135.3,"e100":126.0,"e200":120.2,"bm":148.5,"bu":171.1,"bl":131.0},
      {"t":"2025-07-18","e20":152.6,"e50":139.0,"e100":128.3,"e200":120.8,"bm":154.1,"bu":170.1,"bl":141.5},
      {"t":"2025-07-22","e20":154.1,"e50":140.2,"e100":129.4,"e200":122.5,"bm":156.7,"bu":168.6,"bl":148.5},
      {"t":"2025-07-25","e20":157.5,"e50":143.0,"e100":132.0,"e200":123.3,"bm":160.0,"bu":170.1,"bl":149.7},
      {"t":"2025-07-28","e20":159.5,"e50":145.1,"e100":132.7,"e200":124.0,"bm":163.4,"bu":171.9,"bl":149.3},
      {"t":"2025-07-29","e20":163.5,"e50":146.7,"e100":133.5,"e200":124.6,"bm":165.5,"bu":190.0,"bl":142.3},
      {"t":"2025-08-01","e20":172.6,"e50":152.9,"e100":138.0,"e200":127.1,"bm":171.2,"bu":201.4,"bl":138.0},
      {"t":"2025-08-04","e20":175.4,"e50":154.7,"e100":139.2,"e200":128.2,"bm":173.3,"bu":205.0,"bl":138.7},
      {"t":"2025-08-08","e20":183.8,"e50":162.0,"e100":143.7,"e200":130.6,"bm":181.0,"bu":217.6,"bl":143.0},
      {"t":"2025-08-11","e20":186.0,"e50":163.4,"e100":145.1,"e200":131.0,"bm":184.5,"bu":224.3,"bl":148.6},
      {"t":"2025-08-14","e20":190.5,"e50":169.0,"e100":148.5,"e200":133.3,"bm":189.5,"bu":225.4,"bl":154.0},
      {"t":"2025-08-18","e20":191.2,"e50":170.3,"e100":150.8,"e200":134.5,"bm":193.5,"bu":223.7,"bl":165.5},
      {"t":"2025-08-21","e20":189.5,"e50":171.6,"e100":152.9,"e200":135.5,"bm":195.8,"bu":217.0,"bl":180.0},
      {"t":"2025-08-25","e20":189.5,"e50":173.0,"e100":153.9,"e200":136.7,"bm":197.5,"bu":213.4,"bl":181.0},
      {"t":"2025-08-28","e20":193.7,"e50":177.5,"e100":157.1,"e200":139.2,"bm":197.9,"bu":214.8,"bl":180.6},
      {"t":"2025-09-02","e20":194.4,"e50":178.2,"e100":158.5,"e200":140.2,"bm":197.9,"bu":214.8,"bl":180.6},
      {"t":"2025-09-04","e20":198.0,"e50":180.5,"e100":160.0,"e200":141.0,"bm":200.0,"bu":219.7,"bl":176.0},
      {"t":"2025-09-05","e20":202.6,"e50":183.4,"e100":162.3,"e200":142.3,"bm":203.6,"bu":229.6,"bl":171.9},
      {"t":"2025-09-08","e20":206.4,"e50":186.0,"e100":164.1,"e200":143.4,"bm":204.3,"bu":240.2,"bl":167.0},
      {"t":"2025-09-12","e20":219.7,"e50":195.1,"e100":170.2,"e200":147.2,"bm":211.3,"bu":260.6,"bl":163.4},
      {"t":"2025-09-15","e20":222.3,"e50":196.9,"e100":171.9,"e200":148.6,"bm":214.4,"bu":264.8,"bl":164.8},
      {"t":"2025-09-17","e20":227.0,"e50":201.0,"e100":174.7,"e200":150.4,"bm":219.7,"bu":271.8,"bl":171.9},
      {"t":"2025-09-19","e20":232.1,"e50":205.0,"e100":177.5,"e200":152.2,"bm":227.0,"bu":275.4,"bl":180.5},
      {"t":"2025-09-22","e20":234.1,"e50":207.1,"e100":179.2,"e200":153.3,"bm":234.0,"bu":277.0,"bl":184.5},
      {"t":"2025-09-25","e20":237.5,"e50":212.0,"e100":184.0,"e200":156.5,"bm":237.5,"bu":275.0,"bl":197.2},
      {"t":"2025-09-29","e20":239.5,"e50":214.1,"e100":186.2,"e200":158.5,"bm":241.6,"bu":267.0,"bl":219.0},
      {"t":"2025-10-01","e20":240.6,"e50":216.5,"e100":188.5,"e200":160.0,"bm":245.0,"bu":262.0,"bl":228.0},
      {"t":"2025-10-03","e20":241.6,"e50":218.6,"e100":190.4,"e200":161.7,"bm":248.6,"bu":258.5,"bl":237.0},
      {"t":"2025-10-06","e20":240.2,"e50":219.7,"e100":191.6,"e200":162.7,"bm":247.2,"bu":260.3,"bl":234.5},
      {"t":"2025-10-09","e20":243.7,"e50":223.3,"e100":194.7,"e200":164.8,"bm":246.5,"bu":262.0,"bl":233.5},
      {"t":"2025-10-14","e20":245.6,"e50":226.1,"e100":197.8,"e200":166.8,"bm":248.2,"bu":264.2,"bl":233.2},
      {"t":"2025-10-17","e20":253.0,"e50":232.3,"e100":203.1,"e200":170.3,"bm":252.7,"bu":272.1,"bl":228.8},
      {"t":"2025-10-21","e20":256.5,"e50":233.4,"e100":204.2,"e200":171.8,"bm":253.2,"bu":275.0,"bl":228.6},
      {"t":"2025-10-24","e20":263.3,"e50":240.4,"e100":210.0,"e200":175.5,"bm":260.4,"bu":294.2,"bl":226.0},
      {"t":"2025-10-27","e20":267.2,"e50":242.9,"e100":211.6,"e200":177.4,"bm":264.2,"bu":300.4,"bl":224.3},
      {"t":"2025-10-30","e20":284.0,"e50":252.5,"e100":217.5,"e200":181.8,"bm":277.0,"bu":330.0,"bl":212.8},
      {"t":"2025-10-31","e20":290.2,"e50":257.1,"e100":221.1,"e200":184.0,"bm":280.1,"bu":338.0,"bl":214.0},
      {"t":"2025-11-03","e20":296.5,"e50":260.6,"e100":224.0,"e200":185.7,"bm":286.3,"bu":355.0,"bl":217.3},
      {"t":"2025-11-06","e20":308.4,"e50":270.4,"e100":231.8,"e200":190.7,"bm":304.0,"bu":372.1,"bl":231.0},
      {"t":"2025-11-10","e20":313.2,"e50":274.8,"e100":234.9,"e200":192.5,"bm":310.2,"bu":374.8,"bl":240.3},
      {"t":"2025-11-12","e20":316.7,"e50":277.5,"e100":238.5,"e200":195.5,"bm":315.5,"bu":374.5,"bl":252.5},
      {"t":"2025-11-14","e20":314.2,"e50":279.2,"e100":240.3,"e200":197.4,"bm":317.8,"bu":374.0,"bl":257.0},
      {"t":"2025-11-17","e20":313.7,"e50":281.0,"e100":242.4,"e200":198.7,"bm":319.6,"bu":372.1,"bl":268.6},
      {"t":"2025-11-21","e20":306.6,"e50":283.1,"e100":244.7,"e200":202.2,"bm":322.6,"bu":365.0,"bl":280.1},
      {"t":"2025-11-24","e20":308.4,"e50":284.5,"e100":247.7,"e200":204.0,"bm":323.5,"bu":363.5,"bl":281.0},
      {"t":"2025-11-28","e20":315.0,"e50":289.5,"e100":252.7,"e200":208.0,"bm":323.8,"bu":363.0,"bl":279.5},
      {"t":"2025-12-01","e20":315.5,"e50":292.0,"e100":254.4,"e200":208.8,"bm":322.6,"bu":362.5,"bl":278.5},
      {"t":"2025-12-03","e20":314.2,"e50":293.0,"e100":256.5,"e200":211.0,"bm":321.0,"bu":362.4,"bl":278.3},
      {"t":"2025-12-05","e20":316.0,"e50":294.2,"e100":258.3,"e200":212.8,"bm":319.0,"bu":352.7,"bl":279.2},
      {"t":"2025-12-08","e20":318.1,"e50":296.9,"e100":260.6,"e200":214.1,"bm":317.3,"bu":357.0,"bl":278.5},
      {"t":"2025-12-11","e20":326.1,"e50":303.1,"e100":264.2,"e200":219.0,"bm":319.6,"bu":359.7,"bl":277.8},
      {"t":"2025-12-15","e20":322.6,"e50":303.1,"e100":266.8,"e200":219.9,"bm":319.9,"bu":362.0,"bl":268.0},
      {"t":"2025-12-19","e20":309.3,"e50":300.4,"e100":267.7,"e200":222.2,"bm":316.4,"bu":362.5,"bl":268.0},
      {"t":"2025-12-22","e20":308.9,"e50":300.1,"e100":268.9,"e200":222.9,"bm":317.0,"bu":363.0,"bl":270.4},
      {"t":"2025-12-26","e20":308.1,"e50":300.5,"e100":271.0,"e200":224.5,"bm":314.0,"bu":357.9,"bl":267.6},
      {"t":"2025-12-31","e20":305.6,"e50":301.0,"e100":272.5,"e200":227.7,"bm":309.8,"bu":355.1,"bl":265.9},
      {"t":"2026-01-05","e20":304.7,"e50":301.0,"e100":274.0,"e200":229.1,"bm":305.6,"bu":351.7,"bl":264.0},
      {"t":"2026-01-09","e20":302.7,"e50":302.7,"e100":275.5,"e200":231.8,"bm":302.2,"bu":330.1,"bl":266.0},
      {"t":"2026-01-12","e20":306.0,"e50":303.0,"e100":277.5,"e200":233.5,"bm":299.7,"bu":320.0,"bl":276.0},
      {"t":"2026-01-14","e20":307.0,"e50":303.2,"e100":278.5,"e200":234.7,"bm":299.7,"bu":326.7,"bl":278.5},
      {"t":"2026-01-16","e20":307.8,"e50":303.4,"e100":279.5,"e200":235.8,"bm":299.7,"bu":325.5,"bl":279.4},
      {"t":"2026-01-21","e20":307.8,"e50":303.8,"e100":280.8,"e200":238.0,"bm":304.7,"bu":323.3,"bl":289.2},
      {"t":"2026-01-23","e20":306.8,"e50":303.9,"e100":281.2,"e200":238.5,"bm":304.7,"bu":323.3,"bl":285.3},
      {"t":"2026-01-26","e20":306.8,"e50":303.9,"e100":281.4,"e200":239.2,"bm":304.7,"bu":323.3,"bl":283.0},
      {"t":"2026-01-28","e20":312.3,"e50":306.4,"e100":284.5,"e200":241.7,"bm":307.0,"bu":336.8,"bl":280.5},
      {"t":"2026-01-30","e20":308.5,"e50":305.1,"e100":284.5,"e200":242.3,"bm":308.5,"bu":336.8,"bl":279.4},
      {"t":"2026-02-03","e20":305.0,"e50":303.0,"e100":285.0,"e200":244.0,"bm":307.3,"bu":338.5,"bl":276.5},
      {"t":"2026-02-06","e20":302.5,"e50":303.5,"e100":285.5,"e200":245.0,"bm":307.0,"bu":340.0,"bl":274.0},
      {"t":"2026-02-09","e20":303.9,"e50":303.9,"e100":286.0,"e200":245.8,"bm":306.4,"bu":340.5,"bl":271.5},
      {"t":"2026-02-11","e20":301.4,"e50":302.0,"e100":286.2,"e200":246.5,"bm":303.5,"bu":336.8,"bl":270.1},
      {"t":"2026-02-13","e20":298.0,"e50":301.0,"e100":286.2,"e200":246.9,"bm":301.4,"bu":336.2,"bl":265.5},
      {"t":"2026-02-17","e20":296.0,"e50":300.5,"e100":286.2,"e200":247.3,"bm":299.5,"bu":335.5,"bl":264.2},
      {"t":"2026-02-20","e20":295.4,"e50":299.7,"e100":286.4,"e200":248.3,"bm":298.0,"bu":334.0,"bl":262.5},
      {"t":"2026-02-24","e20":298.5,"e50":299.0,"e100":286.5,"e200":249.3,"bm":297.6,"bu":332.6,"bl":262.5},
      {"t":"2026-02-26","e20":298.3,"e50":298.8,"e100":286.5,"e200":249.8,"bm":296.5,"bu":313.2,"bl":271.0},
      {"t":"2026-03-02","e20":290.0,"e50":295.5,"e100":286.0,"e200":250.5,"bm":294.0,"bu":314.5,"bl":266.0},
      {"t":"2026-03-05","e20":282.5,"e50":292.0,"e100":284.7,"e200":251.4,"bm":288.0,"bu":317.5,"bl":259.5},
      {"t":"2026-03-06","e20":280.6,"e50":291.1,"e100":284.5,"e200":251.3,"bm":284.0,"bu":318.0,"bl":252.0},
      {"t":"2026-03-09","e20":278.9,"e50":289.5,"e100":283.5,"e200":251.6,"bm":280.6,"bu":315.6,"bl":250.8},
      {"t":"2026-03-10","e20":278.0,"e50":289.0,"e100":283.3,"e200":251.7,"bm":279.5,"bu":309.5,"bl":250.3},
      {"t":"2026-03-13","e20":274.8,"e50":286.5,"e100":283.0,"e200":252.1,"bm":276.5,"bu":304.6,"bl":248.9},
      {"t":"2026-03-17","e20":274.8,"e50":285.0,"e100":282.6,"e200":252.8,"bm":275.3,"bu":303.0,"bl":248.9},
      {"t":"2026-03-20","e20":275.3,"e50":284.7,"e100":282.6,"e200":253.3,"bm":274.3,"bu":298.5,"bl":249.8},
      {"t":"2026-03-23","e20":275.7,"e50":284.5,"e100":282.6,"e200":253.7,"bm":273.3,"bu":297.7,"bl":250.8},
      {"t":"2026-03-25","e20":280.6,"e50":284.5,"e100":282.4,"e200":254.0,"bm":275.3,"bu":298.5,"bl":249.6},
      {"t":"2026-03-30","e20":277.7,"e50":284.5,"e100":282.1,"e200":255.3,"bm":275.7,"bu":299.8,"bl":246.4},
      {"t":"2026-03-31","e20":278.5,"e50":284.6,"e100":282.2,"e200":255.5,"bm":275.7,"bu":300.0,"bl":246.5},
      {"t":"2026-04-02","e20":281.4,"e50":284.7,"e100":282.3,"e200":255.8,"bm":275.7,"bu":304.1,"bl":249.6},
      {"t":"2026-04-07","e20":283.5,"e50":285.5,"e100":282.7,"e200":257.0,"bm":279.5,"bu":305.5,"bl":253.5},
      {"t":"2026-04-10","e20":296.8,"e50":291.1,"e100":285.0,"e200":258.5,"bm":290.0,"bu":338.0,"bl":245.4},
      {"t":"2026-04-13","e20":303.4,"e50":294.3,"e100":287.5,"e200":260.1,"bm":299.7,"bu":362.0,"bl":241.0},
      {"t":"2026-04-15","e20":318.0,"e50":300.5,"e100":291.0,"e200":262.0,"bm":308.0,"bu":385.0,"bl":232.5},
      {"t":"2026-04-17","e20":331.1,"e50":307.5,"e100":294.8,"e200":264.3,"bm":317.3,"bu":402.3,"bl":230.8},
      {"t":"2026-04-20","e20":337.7,"e50":311.4,"e100":297.2,"e200":266.0,"bm":324.1,"bu":414.1,"bl":233.2},
      {"t":"2026-04-24","e20":358.8,"e50":324.1,"e100":305.1,"e200":271.6,"bm":347.4,"bu":446.3,"bl":244.7},
      {"t":"2026-04-27","e20":365.2,"e50":328.0,"e100":308.0,"e200":274.0,"bm":349.8,"bu":454.2,"bl":250.8},
      {"t":"2026-04-29","e20":365.7,"e50":330.0,"e100":309.5,"e200":275.5,"bm":360.8,"bu":448.3,"bl":275.3},
      {"t":"2026-05-01","e20":375.0,"e50":337.6,"e100":313.9,"e200":277.7,"bm":375.5,"bu":450.0,"bl":299.7},
      {"t":"2026-05-04","e20":379.1,"e50":341.2,"e100":316.3,"e200":278.9,"bm":378.4,"bu":449.3,"bl":314.4},
      {"t":"2026-05-06","e20":385.2,"e50":347.0,"e100":321.0,"e200":282.5,"bm":393.0,"bu":441.4,"bl":354.0},
      {"t":"2026-05-08","e20":384.7,"e50":348.5,"e100":322.5,"e200":284.0,"bm":395.0,"bu":432.9,"bl":359.6},
      {"t":"2026-05-11","e20":384.0,"e50":350.5,"e100":323.7,"e200":285.0,"bm":396.0,"bu":431.7,"bl":362.0},
      {"t":"2026-05-14","e20":382.3,"e50":353.5,"e100":327.1,"e200":287.5,"bm":394.5,"bu":432.9,"bl":354.7},
      {"t":"2026-05-18","e20":376.7,"e50":353.0,"e100":327.8,"e200":288.7,"bm":390.1,"bu":436.6,"bl":344.0},
      {"t":"2026-05-20","e20":370.0,"e50":352.5,"e100":328.3,"e200":289.8,"bm":385.5,"bu":437.0,"bl":332.0},
      {"t":"2026-05-22","e20":368.1,"e50":353.8,"e100":329.0,"e200":291.0,"bm":380.8,"bu":434.0,"bl":329.0},
      {"t":"2026-05-26","e20":369.3,"e50":354.3,"e100":330.5,"e200":292.2,"bm":379.1,"bu":428.7,"bl":328.5},
      {"t":"2026-05-28","e20":366.2,"e50":354.7,"e100":331.5,"e200":292.9,"bm":378.0,"bu":428.7,"bl":325.4},
      {"t":"2026-05-29","e20":368.0,"e50":355.5,"e100":332.0,"e200":293.5,"bm":376.7,"bu":426.3,"bl":325.4},
      {"t":"2026-06-01","e20":373.0,"e50":358.4,"e100":334.4,"e200":296.0,"bm":377.9,"bu":428.0,"bl":325.4},
      {"t":"2026-06-03","e20":391.3,"e50":365.0,"e100":339.0,"e200":298.5,"bm":380.5,"bu":451.2,"bl":310.8},
      {"t":"2026-06-04","e20":393.8,"e50":369.3,"e100":341.2,"e200":300.2,"bm":381.6,"bu":453.2,"bl":309.5},
      {"t":"2026-06-05","e20":391.3,"e50":369.3,"e100":341.5,"e200":300.6,"bm":381.0,"bu":453.4,"bl":308.3},
      {"t":"2026-06-08","e20":390.6,"e50":369.3,"e100":342.5,"e200":302.2,"bm":380.3,"bu":453.7,"bl":309.2},
      {"t":"2026-06-10","e20":386.5,"e50":370.0,"e100":344.0,"e200":303.4,"bm":381.5,"bu":454.5,"bl":309.5},
      {"t":"2026-06-12","e20":387.7,"e50":371.1,"e100":346.1,"e200":304.6,"bm":382.8,"bu":455.0,"bl":310.5},
      {"t":"2026-06-15","e20":388.9,"e50":372.8,"e100":347.8,"e200":306.5,"bm":384.0,"bu":456.1,"bl":312.0},
      {"t":"2026-06-18","e20":386.5,"e50":373.0,"e100":348.8,"e200":308.2,"bm":386.5,"bu":453.7,"bl":325.4},
      {"t":"2026-06-22","e20":384.7,"e50":373.0,"e100":349.1,"e200":309.0,"bm":389.6,"bu":453.2,"bl":327.1},
      {"t":"2026-06-24","e20":378.0,"e50":371.5,"e100":349.1,"e200":309.8,"bm":389.0,"bu":454.5,"bl":324.0},
      {"t":"2026-06-26","e20":374.2,"e50":370.1,"e100":349.1,"e200":310.6,"bm":388.1,"bu":455.6,"bl":321.7},
      {"t":"2026-06-29","e20":371.8,"e50":368.5,"e100":349.1,"e200":311.4,"bm":386.5,"bu":455.6,"bl":317.0},
      {"t":"2026-06-30","e20":370.5,"e50":368.0,"e100":349.2,"e200":311.7,"bm":381.0,"bu":450.0,"bl":321.0},
      {"t":"2026-07-02","e20":367.6,"e50":366.9,"e100":349.2,"e200":312.2,"bm":371.8,"bu":414.6,"bl":329.5},
      {"t":"2026-07-06","e20":366.2,"e50":366.2,"e100":349.3,"e200":312.8,"bm":368.1,"bu":403.6,"bl":332.0},
      {"t":"2026-07-09","e20":363.7,"e50":365.0,"e100":349.3,"e200":313.6,"bm":366.2,"bu":400.4,"bl":329.5},
      {"t":"2026-07-13","e20":362.0,"e50":364.3,"e100":349.0,"e200":314.2,"bm":363.7,"bu":398.0,"bl":327.8},
      {"t":"2026-07-15","e20":359.6,"e50":362.0,"e100":348.6,"e200":314.5,"bm":358.4,"bu":384.0,"bl":328.5},
      {"t":"2026-07-17","e20":347.4,"e50":357.1,"e100":348.4,"e200":314.8,"bm":347.4,"bu":386.0,"bl":312.0},
      {"t":"2026-07-20","e20":343.7,"e50":354.7,"e100":347.0,"e200":314.8,"bm":343.7,"bu":385.7,"bl":306.6},
      {"t":"2026-07-22","e20":341.5,"e50":353.5,"e100":346.1,"e200":314.8,"bm":342.0,"bu":381.0,"bl":305.1},
      {"t":"2026-07-24","e20":337.6,"e50":352.0,"e100":345.5,"e200":314.8,"bm":341.0,"bu":377.9,"bl":299.7},
      {"t":"2026-07-27","e20":335.9,"e50":350.5,"e100":344.9,"e200":314.8,"bm":338.3,"bu":377.2,"bl":298.5}
    ]
  },
  "layer": [
    {
      "description": "Vertical month grid lines with their tick stubs below the plot; this layer also carries both axes",
      "data": {"name": "monthGrid"},
      "mark": {"type": "rule", "color": "#e3e3e3", "strokeWidth": 1.5},
      "encoding": {
        "x": {"field": "t", "type": "temporal",
              "scale": {"type": "utc", "nice": false,
                        "domain": [{"year": 2025, "month": 5, "date": 14, "hours": 14, "minutes": 30, "utc": true},
                                   {"year": 2026, "month": 7, "date": 28, "hours": 16, "minutes": 20, "utc": true}]},
              "axis": {
                "title": null,
                "values": [
                  {"year": 2025, "month": 6, "date": 1, "utc": true}, {"year": 2025, "month": 7, "date": 1, "utc": true},
                  {"year": 2025, "month": 8, "date": 1, "utc": true}, {"year": 2025, "month": 9, "date": 1, "utc": true},
                  {"year": 2025, "month": 10, "date": 1, "utc": true}, {"year": 2025, "month": 11, "date": 1, "utc": true},
                  {"year": 2025, "month": 12, "date": 1, "utc": true}, {"year": 2026, "month": 1, "date": 1, "utc": true},
                  {"year": 2026, "month": 2, "date": 1, "utc": true}, {"year": 2026, "month": 3, "date": 1, "utc": true},
                  {"year": 2026, "month": 4, "date": 1, "utc": true}, {"year": 2026, "month": 5, "date": 1, "utc": true},
                  {"year": 2026, "month": 6, "date": 1, "utc": true}, {"year": 2026, "month": 7, "date": 1, "utc": true}
                ],
                "format": "%b %Y",
                "orient": "bottom",
                "grid": false, "ticks": false, "tickSize": 0, "domain": false,
                "labelFont": "Liberation Sans", "labelFontSize": 16, "labelColor": "#666666",
                "labelPadding": 16, "labelFlush": false, "labelOverlap": false
              }},
        "y": {"datum": 500, "type": "quantitative",
              "scale": {"domain": [100, 500], "nice": false, "zero": false},
              "axis": {
                "title": null, "orient": "right",
                "values": [100, 150, 200, 250, 300, 350, 400, 450, 500],
                "grid": true, "gridColor": "#e2e2e2", "gridDash": [3, 3], "gridWidth": 1,
                "ticks": true, "tickColor": "#e2e2e2", "tickSize": 8,
                "domain": true, "domainColor": "#dddddd", "domainWidth": 1.5,
                "labelFont": "Liberation Sans", "labelFontSize": 16, "labelColor": "#666666", "labelPadding": 6
              }},
        "y2": {"datum": 96.9}
      }
    },
    {
      "description": "Volume bars on their own hidden scale",
      "data": {"name": "candles"},
      "mark": {"type": "bar", "width": 4},
      "encoding": {
        "x": {"field": "t", "type": "temporal", "axis": null},
        "y": {"field": "v", "type": "quantitative", "scale": {"domain": [0, 400], "nice": false, "zero": true}, "axis": null},
        "fill": {"condition": {"test": "datum.c >= datum.o", "value": "#c8f0d8"}, "value": "#fad0cb"}
      }
    },
    {
      "data": {"name": "indicators"},
      "mark": {"type": "line", "color": "#c6c6c6", "strokeWidth": 1.5},
      "encoding": {
        "x": {"field": "t", "type": "temporal", "axis": null},
        "y": {"field": "bl", "type": "quantitative", "scale": {"domain": [100, 500], "nice": false, "zero": false}, "axis": null}
      }
    },
    {
      "data": {"name": "indicators"},
      "mark": {"type": "line", "color": "#c6c6c6", "strokeWidth": 1.5},
      "encoding": {
        "x": {"field": "t", "type": "temporal", "axis": null},
        "y": {"field": "bu", "type": "quantitative", "scale": {"domain": [100, 500], "nice": false, "zero": false}, "axis": null}
      }
    },
    {
      "data": {"name": "indicators"},
      "mark": {"type": "line", "color": "#9a9a9a", "strokeWidth": 1.2, "strokeDash": [4, 3]},
      "encoding": {
        "x": {"field": "t", "type": "temporal", "axis": null},
        "y": {"field": "bm", "type": "quantitative", "scale": {"domain": [100, 500], "nice": false, "zero": false}, "axis": null}
      }
    },
    {
      "data": {"name": "indicators"},
      "mark": {"type": "line", "color": "#000000", "strokeWidth": 2.2, "strokeDash": [7, 4]},
      "encoding": {
        "x": {"field": "t", "type": "temporal", "axis": null},
        "y": {"field": "e200", "type": "quantitative", "scale": {"domain": [100, 500], "nice": false, "zero": false}, "axis": null}
      }
    },
    {
      "data": {"name": "indicators"},
      "mark": {"type": "line", "color": "#8b4513", "strokeWidth": 2},
      "encoding": {
        "x": {"field": "t", "type": "temporal", "axis": null},
        "y": {"field": "e100", "type": "quantitative", "scale": {"domain": [100, 500], "nice": false, "zero": false}, "axis": null}
      }
    },
    {
      "data": {"name": "indicators"},
      "mark": {"type": "line", "color": "#8b5cf6", "strokeWidth": 2.5},
      "encoding": {
        "x": {"field": "t", "type": "temporal", "axis": null},
        "y": {"field": "e50", "type": "quantitative", "scale": {"domain": [100, 500], "nice": false, "zero": false}, "axis": null}
      }
    },
    {
      "data": {"name": "indicators"},
      "mark": {"type": "line", "color": "#0d84ff", "strokeWidth": 2.8},
      "encoding": {
        "x": {"field": "t", "type": "temporal", "axis": null},
        "y": {"field": "e20", "type": "quantitative", "scale": {"domain": [100, 500], "nice": false, "zero": false}, "axis": null}
      }
    },
    {
      "description": "Candle wicks",
      "data": {"name": "candles"},
      "mark": {"type": "rule", "color": "#606060", "strokeWidth": 1.5},
      "encoding": {
        "x": {"field": "t", "type": "temporal", "axis": null},
        "y": {"field": "l", "type": "quantitative", "scale": {"domain": [100, 500], "nice": false, "zero": false}, "axis": null},
        "y2": {"field": "h"}
      }
    },
    {
      "description": "Candle bodies",
      "data": {"name": "candles"},
      "mark": {"type": "bar", "width": 4, "stroke": "#505050", "strokeWidth": 1},
      "encoding": {
        "x": {"field": "t", "type": "temporal", "axis": null},
        "y": {"field": "o", "type": "quantitative", "scale": {"domain": [100, 500], "nice": false, "zero": false}, "axis": null},
        "y2": {"field": "c"},
        "fill": {"condition": {"test": "datum.c >= datum.o", "value": "#4f9464"}, "value": "#d4533b"}
      }
    },
    {
      "description": "Legend entries only; no marks are drawn",
      "data": {"name": "legendItems"},
      "transform": [{"filter": "false"}],
      "mark": {"type": "square", "filled": true},
      "encoding": {
        "fill": {
          "field": "s", "type": "nominal",
          "scale": {
            "domain": ["CLS/USDT", "EMA20", "EMA50", "EMA100", "EMA200", "BB Mid (20)", "BB Upper", "BB Lower", "Volume"],
            "range": ["#666666", "#e6e6e6", "#e6e6e6", "#e6e6e6", "#e6e6e6", "#e6e6e6", "#e6e6e6", "#e6e6e6", "#c8f0d8"]
          },
          "legend": {
            "title": null, "orient": "none", "legendX": 779, "legendY": -34,
            "direction": "horizontal", "columns": 9, "padding": 0,
            "symbolType": "M-1,-0.64H1V0.64H-1Z", "symbolSize": 625, "symbolStrokeWidth": 2,
            "labelFont": "Liberation Sans", "labelFontSize": 16, "labelColor": "#666666",
            "labelOffset": 7, "columnPadding": 8, "labelLimit": 300
          }
        },
        "stroke": {
          "field": "s", "type": "nominal",
          "scale": {
            "domain": ["CLS/USDT", "EMA20", "EMA50", "EMA100", "EMA200", "BB Mid (20)", "BB Upper", "BB Lower", "Volume"],
            "range": ["#555555", "#0d84ff", "#8b5cf6", "#8b4513", "#000000", "#9a9a9a", "#c6c6c6", "#c6c6c6", "#c8f0d8"]
          },
          "legend": {
            "title": null, "orient": "none", "legendX": 779, "legendY": -34,
            "direction": "horizontal", "columns": 9, "padding": 0,
            "symbolType": "M-1,-0.64H1V0.64H-1Z", "symbolSize": 625, "symbolStrokeWidth": 2,
            "labelFont": "Liberation Sans", "labelFontSize": 16, "labelColor": "#666666",
            "labelOffset": 7, "columnPadding": 8, "labelLimit": 300
          }
        },
        "strokeDash": {
          "field": "s", "type": "nominal",
          "scale": {
            "domain": ["CLS/USDT", "EMA20", "EMA50", "EMA100", "EMA200", "BB Mid (20)", "BB Upper", "BB Lower", "Volume"],
            "range": [[1, 0], [1, 0], [1, 0], [1, 0], [5, 3], [3, 2], [1, 0], [1, 0], [1, 0]]
          },
          "legend": {
            "title": null, "orient": "none", "legendX": 779, "legendY": -34,
            "direction": "horizontal", "columns": 9, "padding": 0,
            "symbolType": "M-1,-0.64H1V0.64H-1Z", "symbolSize": 625, "symbolStrokeWidth": 2,
            "labelFont": "Liberation Sans", "labelFontSize": 16, "labelColor": "#666666",
            "labelOffset": 7, "columnPadding": 8, "labelLimit": 300
          }
        }
      }
    }
  ],
  "resolve": {"scale": {"y": "independent"}, "axis": {"x": "independent"}}
}
